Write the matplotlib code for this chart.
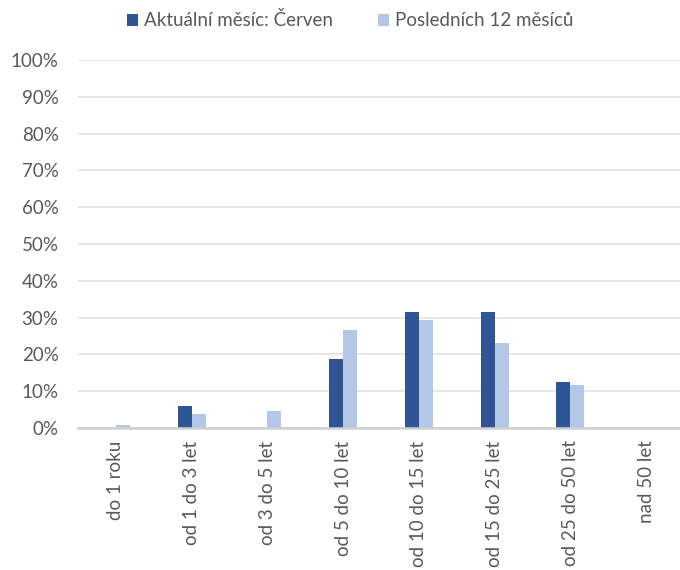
import matplotlib
matplotlib.use("Agg")
import matplotlib.pyplot as plt
import numpy as np

plt.rcParams['font.family'] = ['Lato', 'DejaVu Sans']

categories = ['do 1 roku', 'od 1 do 3 let', 'od 3 do 5 let', 'od 5 do 10 let',
              'od 10 do 15 let', 'od 15 do 25 let', 'od 25 do 50 let', 'nad 50 let']
aktualni = [0.0, 6.0, 0.0, 18.7, 31.4, 31.4, 12.4, 0.0]
poslednich = [0.7, 3.9, 4.7, 26.5, 29.3, 23.0, 11.7, 0.0]
series_names = ['Aktuální měsíc: Červen', 'Posledních 12 měsíců']

dark = '#2F5597'
light = '#B4C7E7'
text_col = '#595959'

fig = plt.figure(figsize=(6.8, 5.7), dpi=100)
ax = fig.add_axes([78 / 680, 1 - 428 / 570, 606 / 680, 368 / 570])

x = np.arange(len(categories))
w = 0.185
ax.bar(x - w / 2, aktualni, w, color=dark, label=series_names[0], zorder=3)
ax.bar(x + w / 2, poslednich, w, color=light, label=series_names[1], zorder=3)

ax.set_xlim(-0.5, len(categories) - 0.5)
ax.set_ylim(0, 100)
ax.set_yticks(np.arange(0, 101, 10))
ax.set_yticklabels([f'{v}%' for v in range(0, 101, 10)])
ax.set_xticks(x)
ax.set_xticklabels(categories, rotation=90, va='top', ha='center')

ax.yaxis.grid(True, color='#E3E3E3', linewidth=1.2, zorder=0)
for s in ['top', 'right', 'left']:
    ax.spines[s].set_visible(False)
ax.spines['bottom'].set_color('#D0D0D0')
ax.spines['bottom'].set_linewidth(1.8)
ax.spines['bottom'].set_zorder(4)
ax.tick_params(axis='y', length=0, pad=14, labelsize=13.5, labelcolor=text_col)
ax.tick_params(axis='x', length=0, pad=9, labelsize=13.5, labelcolor=text_col)

fig.legend(loc='upper center', bbox_to_anchor=(0.515, 1.01), ncol=2, frameon=False,
           fontsize=13.5, labelcolor=text_col, handlelength=0.6, handleheight=0.6,
           handletextpad=0.3, columnspacing=2.4)

fig.savefig('out.png', dpi=100)
